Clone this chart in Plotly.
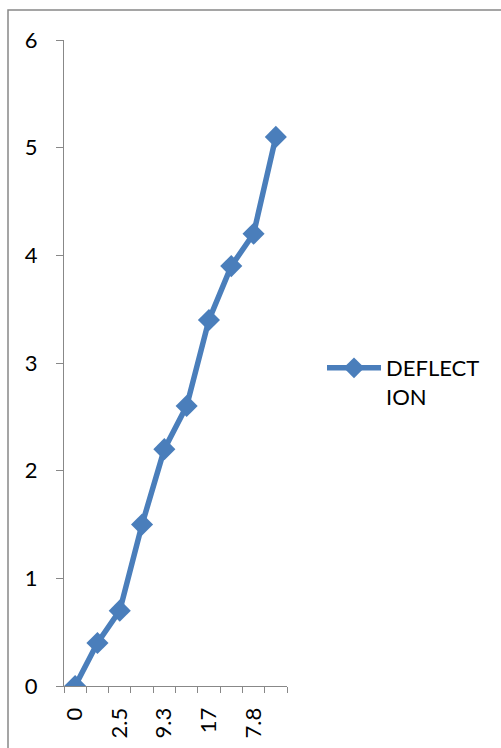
import plotly.graph_objects as go

# Deflection readings, one per position along the x axis
positions = list(range(10))
deflection = [0, 0.4, 0.7, 1.5, 2.2, 2.6, 3.4, 3.9, 4.2, 5.1]

# Only every other category carries a label
tick_positions = [0, 2, 4, 6, 8]
tick_labels = ["0", "2.5", "9.3", "17", "7.8"]
boundaries = [p - 0.5 for p in positions] + [positions[-1] + 0.5]

series_name = "DEFLECT<br>ION"
blue = "#4A7EBB"
axis_grey = "#888888"
font_family = "Lato, Carlito, 'Liberation Sans', sans-serif"

W, H = 501, 748
ml, mr, mt, mb = 64, 214, 40, 62
pw, ph = W - ml - mr, H - mt - mb

fig = go.Figure()
fig.add_trace(go.Scatter(
    x=positions, y=deflection, mode="lines+markers", name=series_name,
    line=dict(color=blue, width=5.5),
    marker=dict(symbol="diamond", size=17, color=blue),
))

def px_to_paper_x(px):
    return (px - ml) / pw

def px_to_paper_y(py):
    return (H - mb - py) / ph

# chart outline
fig.add_shape(type="rect", xref="paper", yref="paper",
              x0=px_to_paper_x(8), x1=px_to_paper_x(W + 10),
              y0=px_to_paper_y(H + 10), y1=px_to_paper_y(10),
              line=dict(color=axis_grey, width=1.5), fillcolor="rgba(0,0,0,0)",
              layer="below")

fig.update_layout(
    width=W, height=H,
    margin=dict(l=ml, r=mr, t=mt, b=mb, autoexpand=False),
    paper_bgcolor="white", plot_bgcolor="white",
    font=dict(family=font_family, size=22, color="#000000"),
    showlegend=True,
    legend=dict(x=px_to_paper_x(322), xanchor="left",
                y=px_to_paper_y(347), yanchor="top",
                valign="top", font=dict(size=22), itemwidth=54,
                bgcolor="rgba(0,0,0,0)"),
    xaxis=dict(
        range=[-0.5, 9.5], showgrid=False, zeroline=False, automargin=False,
        showline=True, linecolor=axis_grey, linewidth=1,
        tickmode="array", tickvals=tick_positions, ticktext=tick_labels,
        tickangle=-90, ticks="outside", ticklen=0,
        ticklabelstandoff=12,
        minor=dict(tickmode="array", tickvals=boundaries, ticks="outside",
                   ticklen=6, tickcolor=axis_grey, tickwidth=1, showgrid=False),
    ),
    yaxis=dict(
        range=[0, 6], showgrid=False, zeroline=False, automargin=False,
        showline=True, linecolor=axis_grey, linewidth=1,
        tickmode="array", tickvals=[0, 1, 2, 3, 4, 5, 6],
        ticks="outside", ticklen=7, tickcolor=axis_grey, tickwidth=1,
        ticklabelstandoff=14,
    ),
)

fig.write_html("out.html")
